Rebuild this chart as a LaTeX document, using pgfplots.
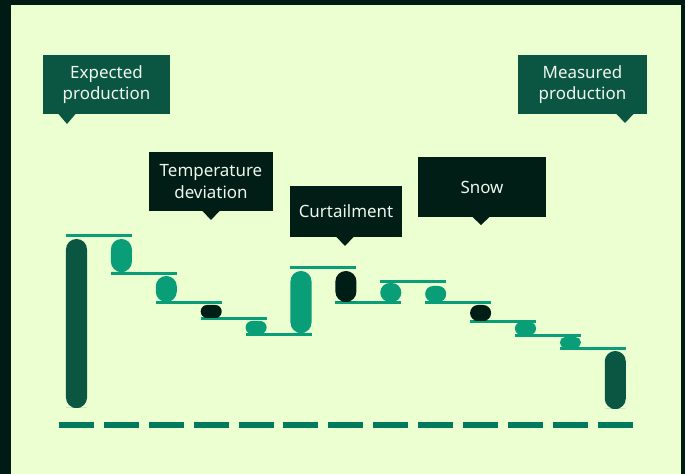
\documentclass[border=0pt]{standalone}
\usepackage{pgfplots}
\pgfplotsset{compat=1.18}
\usepackage{fontspec}
\setmainfont{Noto Sans}
\definecolor{bg}{HTML}{ECFFD0}
\definecolor{framec}{HTML}{001A14}
\definecolor{dkgreen}{HTML}{0B5642}
\definecolor{mdgreen}{HTML}{0A9E78}
\definecolor{vdark}{HTML}{001D16}
\definecolor{dashc}{HTML}{007A5C}
\definecolor{txt}{HTML}{EEF6EE}
\begin{document}
\begin{tikzpicture}
\useasboundingbox (0,0) rectangle (685bp,474bp);
\begin{scope}[shift={(0,474bp)},x=1bp,y=-1bp]
\fill[framec] (0,0) rectangle (685,474);
\fill[bg] (11,5) rectangle (681,474);
\end{scope}
\begin{axis}[at={(0,0)}, anchor=south west, width=685bp, height=474bp,
  scale only axis, xmin=-1.7038, xmax=13.5523, ymin=-63, ymax=411,
  hide axis, clip=false]
% baseline dashes
\addplot[dashc, line width=6bp, dash pattern=on 35bp off 9.9bp] coordinates {(-0.39,-14) (12.39,-14)};
% connector lines (level after each step)
\addplot[mdgreen, line width=3bp] coordinates {(-0.234,175) (1.234,175)};
\addplot[mdgreen, line width=3bp] coordinates {(0.766,137) (2.234,137)};
\addplot[mdgreen, line width=3bp] coordinates {(1.766,108) (3.234,108)};
\addplot[mdgreen, line width=3bp] coordinates {(2.766,92) (4.234,92)};
\addplot[mdgreen, line width=3bp] coordinates {(3.766,76) (5.234,76)};
\addplot[mdgreen, line width=3bp] coordinates {(4.766,143) (6.234,143)};
\addplot[mdgreen, line width=3bp] coordinates {(5.766,108) (7.234,108)};
\addplot[mdgreen, line width=3bp] coordinates {(6.766,129) (8.234,129)};
\addplot[mdgreen, line width=3bp] coordinates {(7.766,108) (9.234,108)};
\addplot[mdgreen, line width=3bp] coordinates {(8.766,89) (10.234,89)};
\addplot[mdgreen, line width=3bp] coordinates {(9.766,75) (11.234,75)};
\addplot[mdgreen, line width=3bp] coordinates {(10.766,62) (12.234,62)};
% capsule bars
\addplot[fill=dkgreen, draw=none, rounded corners=10.4bp] coordinates {(0,3) (0.234,3) (0.234,172) (-0.234,172) (-0.234,3)} --cycle;
\addplot[fill=mdgreen, draw=none, rounded corners=10.4bp] coordinates {(1,139) (1.234,139) (1.234,172) (0.766,172) (0.766,139)} --cycle;
\addplot[fill=mdgreen, draw=none, rounded corners=10.4bp] coordinates {(2,109) (2.234,109) (2.234,135) (1.766,135) (1.766,109)} --cycle;
\addplot[fill=vdark, draw=none, rounded corners=6.4bp] coordinates {(3,93) (3.234,93) (3.234,106) (2.766,106) (2.766,93)} --cycle;
\addplot[fill=mdgreen, draw=none, rounded corners=6.4bp] coordinates {(4,77) (4.234,77) (4.234,90) (3.766,90) (3.766,77)} --cycle;
\addplot[fill=mdgreen, draw=none, rounded corners=10.4bp] coordinates {(5,78) (5.234,78) (5.234,140) (4.766,140) (4.766,78)} --cycle;
\addplot[fill=vdark, draw=none, rounded corners=10.4bp] coordinates {(6,109) (6.234,109) (6.234,140) (5.766,140) (5.766,109)} --cycle;
\addplot[fill=mdgreen, draw=none, rounded corners=9.4bp] coordinates {(7,109) (7.234,109) (7.234,128) (6.766,128) (6.766,109)} --cycle;
\addplot[fill=mdgreen, draw=none, rounded corners=7.9bp] coordinates {(8,109) (8.234,109) (8.234,125) (7.766,125) (7.766,109)} --cycle;
\addplot[fill=vdark, draw=none, rounded corners=7.9bp] coordinates {(9,90) (9.234,90) (9.234,106) (8.766,106) (8.766,90)} --cycle;
\addplot[fill=mdgreen, draw=none, rounded corners=6.4bp] coordinates {(10,76) (10.234,76) (10.234,89) (9.766,89) (9.766,76)} --cycle;
\addplot[fill=mdgreen, draw=none, rounded corners=5.4bp] coordinates {(11,63) (11.234,63) (11.234,74) (10.766,74) (10.766,63)} --cycle;
\addplot[fill=dkgreen, draw=none, rounded corners=10.4bp] coordinates {(12,2) (12.234,2) (12.234,60) (11.766,60) (11.766,2)} --cycle;
\end{axis}
\begin{scope}[shift={(0,474bp)},x=1bp,y=-1bp,
  box/.style={inner sep=0pt, text=txt, align=center, font=\fontsize{17}{21.5}\selectfont}]
% Expected production
\node[box, fill=dkgreen, minimum width=127bp, minimum height=59bp] at (106.5,84.5) {Expected\\production};
\fill[dkgreen] (58,113.5) -- (76,113.5) -- (67,124) -- cycle;
% Temperature deviation
\node[box, fill=vdark, minimum width=124bp, minimum height=59bp] at (211,181.5) {Temperature\\deviation};
\fill[vdark] (202,210.5) -- (220,210.5) -- (211,220) -- cycle;
% Curtailment
\node[box, fill=vdark, minimum width=112bp, minimum height=51bp] at (346,211.5) {Curtailment};
\fill[vdark] (336,236.5) -- (354,236.5) -- (345,246) -- cycle;
% Snow
\node[box, fill=vdark, minimum width=128bp, minimum height=60bp] at (482,187) {Snow};
\fill[vdark] (472,216.5) -- (490,216.5) -- (481,225) -- cycle;
% Measured production
\node[box, fill=dkgreen, minimum width=129bp, minimum height=59bp] at (582.5,84.5) {Measured\\production};
\fill[dkgreen] (616,113.5) -- (634,113.5) -- (625,123) -- cycle;
\end{scope}
\end{tikzpicture}
\end{document}
